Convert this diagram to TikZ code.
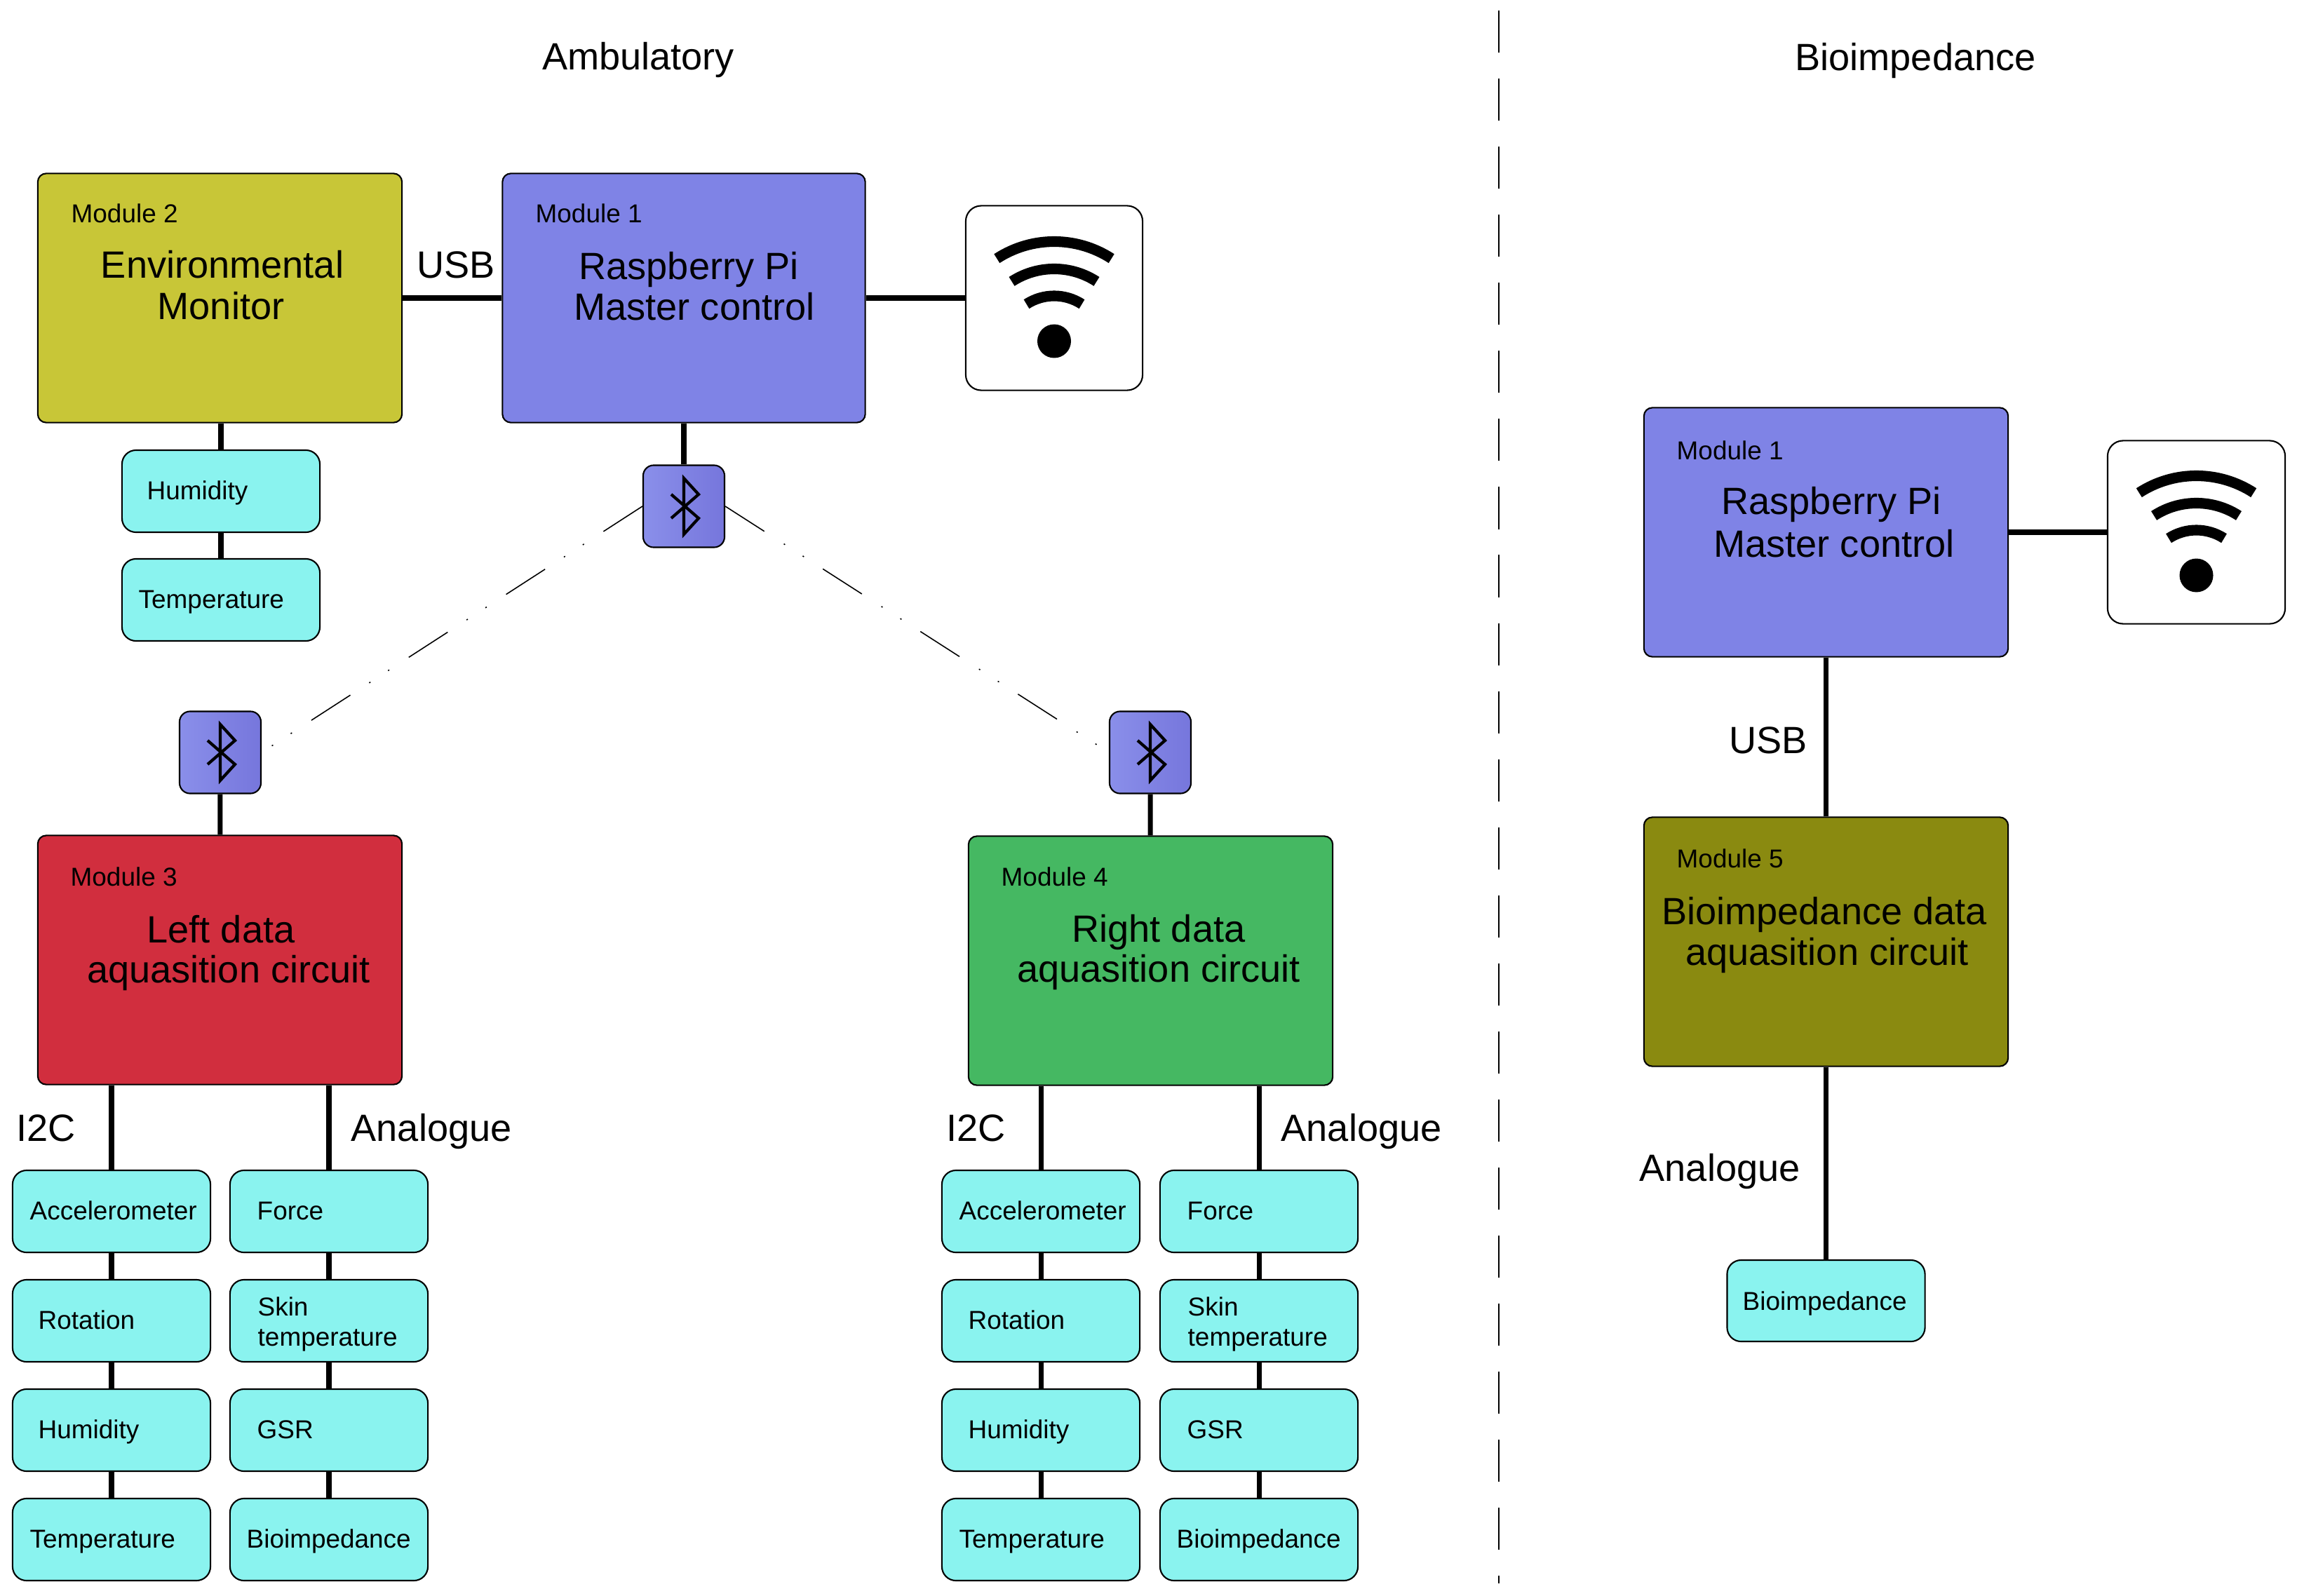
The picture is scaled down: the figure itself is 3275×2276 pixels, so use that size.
\documentclass[tikz,border=0pt]{standalone}
\usepackage{fontspec}
\setmainfont{Liberation Sans}
\definecolor{yelc}{HTML}{C8C637}
\definecolor{bluec}{HTML}{7F83E6}
\definecolor{redc}{HTML}{D12E3E}
\definecolor{greenc}{HTML}{45B862}
\definecolor{olivec}{HTML}{8A8A10}
\definecolor{cyanc}{HTML}{8AF3EF}
\definecolor{btl}{HTML}{8A8FEA}
\definecolor{btr}{HTML}{7676DC}
\tikzset{
  btrune/.pic={\draw[line width=1.2pt, line join=miter] (-18,-17) -- (21,17) -- (0,40) -- (0,-40) -- (21,-17) -- (-18,17);},
  wifiicon/.pic={
    \fill (0,-61.5) circle[radius=24];
    \foreach \r in {150,111,72.5}
      \draw[line width=4.3pt] ([shift={(57:\r)}]0,-69.5) arc[start angle=57,end angle=123,radius=\r];
  }
}
\begin{document}
\begin{tikzpicture}[x=0.01cm,y=0.01cm,
  modbox/.style={draw=black, line width=0.6pt, rounded corners=0.12cm, inner sep=0pt, minimum width=5.19cm, minimum height=3.55cm},
  sensor/.style={draw=black, line width=0.6pt, fill=cyanc, rounded corners=0.2cm, minimum width=2.82cm, minimum height=1.17cm, inner sep=0pt},
  wifibox/.style={draw=black, line width=0.6pt, fill=white, rounded corners=0.22cm, inner sep=0pt},
  btbox/.style={draw=black, line width=0.6pt, left color=btl, right color=btr, rounded corners=0.15cm, minimum width=1.16cm, minimum height=1.17cm, inner sep=0pt},
  conn/.style={line width=2pt},
  btlink/.style={line width=0.45pt, dash pattern=on 18.8pt off 9.4pt on 0.6pt off 8.5pt on 0.6pt off 9.1pt},
  big/.style={font=\fontsize{15.4pt}{16.5pt}\selectfont, inner sep=0pt},
  small/.style={font=\fontsize{10.5pt}{12pt}\selectfont, inner sep=0pt}
]
\useasboundingbox (0,0) rectangle (3275,-2276);

% ---------- boxes ----------
\node[modbox, fill=yelc] (m2) at (313.5,-425) {};
\node[modbox, fill=bluec, minimum width=5.17cm] (m1a) at (975,-425) {};
\node[wifibox, minimum width=2.52cm, minimum height=2.63cm] (wa) at (1503,-425) {};
\node[btbox] (bt0) at (975,-722) {};
\node[sensor] (hum2) at (315,-700.5) {};
\node[sensor] (tem2) at (315,-855.5) {};
\node[btbox] (bt1) at (314,-1073) {};
\node[btbox] (bt2) at (1640,-1073) {};
\node[modbox, fill=redc] (m3) at (313.5,-1369) {};
\node[modbox, fill=greenc] (m4) at (1640.5,-1370) {};

\node[sensor] (la1) at (159,-1727.5) {};
\node[sensor] (la2) at (159,-1883.5) {};
\node[sensor] (la3) at (159,-2039.5) {};
\node[sensor] (la4) at (159,-2195.5) {};
\node[sensor] (lb1) at (469,-1727.5) {};
\node[sensor] (lb2) at (469,-1883.5) {};
\node[sensor] (lb3) at (469,-2039.5) {};
\node[sensor] (lb4) at (469,-2195.5) {};
\node[sensor] (ra1) at (1484,-1727.5) {};
\node[sensor] (ra2) at (1484,-1883.5) {};
\node[sensor] (ra3) at (1484,-2039.5) {};
\node[sensor] (ra4) at (1484,-2195.5) {};
\node[sensor] (rb1) at (1795,-1727.5) {};
\node[sensor] (rb2) at (1795,-1883.5) {};
\node[sensor] (rb3) at (1795,-2039.5) {};
\node[sensor] (rb4) at (1795,-2195.5) {};

\node[modbox, fill=bluec] (m1b) at (2603.5,-759) {};
\node[wifibox, minimum width=2.53cm, minimum height=2.61cm] (wb) at (3131.5,-759) {};
\node[modbox, fill=olivec] (m5) at (2603.5,-1343) {};
\node[sensor, minimum height=1.16cm] (bio) at (2603.5,-1855) {};

% ---------- icons ----------
\pic at (bt0) {btrune};
\pic at (bt1) {btrune};
\pic at (bt2) {btrune};
\pic at (wa) {wifiicon};
\pic at (wb) {wifiicon};

% ---------- connectors ----------
\draw[conn] (m2) -- (m1a);
\draw[conn] (m1a) -- (wa);
\draw[conn] (m1a) -- (bt0);
\draw[conn] (hum2.north |- m2.south) -- (hum2.north);
\draw[conn] (hum2) -- (tem2);
\draw[btlink] (bt0.west) -- (bt1.east);
\draw[btlink] (bt0.east) -- (bt2.west);
\draw[conn] (bt1) -- (m3);
\draw[conn] (bt2) -- (m4);
\draw[conn] (la1.north |- m3.south) -- (la1.north);
\draw[conn] (lb1.north |- m3.south) -- (lb1.north);
\draw[conn] (ra1.north |- m4.south) -- (ra1.north);
\draw[conn] (rb1.north |- m4.south) -- (rb1.north);
\foreach \c in {la,lb,ra,rb}{
  \draw[conn] (\c1) -- (\c2);
  \draw[conn] (\c2) -- (\c3);
  \draw[conn] (\c3) -- (\c4);
}
\draw[conn] (m1b) -- (wb);
\draw[conn] (m1b) -- (m5);
\draw[conn] (m5) -- (bio);
\coordinate (dtop) at (2137,-15);
\coordinate (dbot) at (2137,-2258);
\draw[line width=0.65pt, dash pattern=on 17.1pt off 10.5pt] (dtop) -- (dbot);

% ---------- texts ----------
\node[big, anchor=base] (tamb) at (910,-100) {Ambulatory};
\node[big, anchor=base] (tbio) at (2731,-101) {Bioimpedance};

\node[small, anchor=base west] (tm2) at (101,-318) {Module 2};
\node[big, anchor=base] (tenv) at (317,-397) {Environmental};
\node[big, anchor=base] (tmon) at (315,-456) {Monitor};
\node[big, anchor=base west] (tusb1) at (594,-397) {USB};
\node[small, anchor=base west] (tm1a) at (763,-318) {Module 1};
\node[big, anchor=base] (trpa) at (982,-399) {Raspberry Pi};
\node[big, anchor=base] (tmca) at (990,-457) {Master control};

\node[small, anchor=base west] (thum2) at (209,-712) {Humidity};
\node[small, anchor=base west] (ttem2) at (197,-867) {Temperature};

\node[small, anchor=base west] (tm3) at (100,-1263) {Module 3};
\node[big, anchor=base] (tleft) at (315,-1344) {Left data};
\node[big, anchor=base] (taq3) at (326,-1401) {aquasition circuit};
\node[small, anchor=base west] (tm4) at (1427,-1263) {Module 4};
\node[big, anchor=base] (tright) at (1652,-1343) {Right data};
\node[big, anchor=base] (taq4) at (1652,-1400) {aquasition circuit};

\node[big, anchor=base west] (ti2cl) at (23,-1627) {I2C};
\node[big, anchor=base west] (tanl) at (500,-1627) {Analogue};
\node[big, anchor=base west] (ti2cr) at (1349,-1627) {I2C};
\node[big, anchor=base west] (tanr) at (1826,-1627) {Analogue};

\node[small, anchor=base west] (tla1) at (42,-1739) {Accelerometer};
\node[small, anchor=base west] (tla2) at (54,-1895) {Rotation};
\node[small, anchor=base west] (tla3) at (54,-2051) {Humidity};
\node[small, anchor=base west] (tla4) at (42,-2207) {Temperature};
\node[small, anchor=base west] (tlb1) at (366,-1739) {Force};
\node[small, anchor=base west] (tlb2a) at (367,-1876) {Skin};
\node[small, anchor=base west] (tlb2b) at (367,-1919) {temperature};
\node[small, anchor=base west] (tlb3) at (366,-2051) {GSR};
\node[small, anchor=base west] (tlb4) at (351,-2207) {Bioimpedance};

\node[small, anchor=base west] (tra1) at (1367,-1739) {Accelerometer};
\node[small, anchor=base west] (tra2) at (1380,-1895) {Rotation};
\node[small, anchor=base west] (tra3) at (1380,-2051) {Humidity};
\node[small, anchor=base west] (tra4) at (1367,-2207) {Temperature};
\node[small, anchor=base west] (trb1) at (1692,-1739) {Force};
\node[small, anchor=base west] (trb2a) at (1693,-1876) {Skin};
\node[small, anchor=base west] (trb2b) at (1693,-1919) {temperature};
\node[small, anchor=base west] (trb3) at (1692,-2051) {GSR};
\node[small, anchor=base west] (trb4) at (1677,-2207) {Bioimpedance};

\node[small, anchor=base west] (tm1b) at (2390,-656) {Module 1};
\node[big, anchor=base] (trpb) at (2611,-733) {Raspberry Pi};
\node[big, anchor=base] (tmcb) at (2615,-794) {Master control};
\node[big, anchor=base west] (tusb2) at (2465,-1074) {USB};
\node[small, anchor=base west] (tm5) at (2390,-1237) {Module 5};
\node[big, anchor=base] (tbd) at (2601,-1318) {Bioimpedance data};
\node[big, anchor=base] (taq5) at (2605,-1376) {aquasition circuit};
\node[big, anchor=base west] (tan5) at (2337,-1684) {Analogue};
\node[small, anchor=base west] (tbio5) at (2484,-1868) {Bioimpedance};
\end{tikzpicture}
\end{document}
